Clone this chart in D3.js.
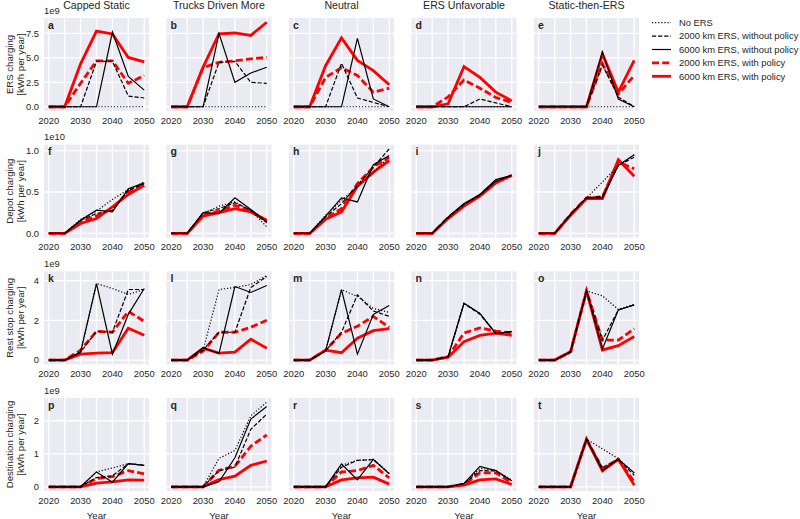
<!DOCTYPE html>
<html lang="en">
<head>
<meta charset="UTF-8">
<title>Charging by scenario</title>
<script src="https://d3js.org/d3.v7.min.js"></script>
<style>
    body { margin: 0; background: #fff; }
    svg { display: block; font-family: "Liberation Sans", Arial, sans-serif; }
    .tick-label { font-size: 9.4px; fill: #262626; }
    .title { font-size: 10.6px; fill: #262626; }
    .axis-label { font-size: 9.6px; fill: #262626; }
    .letter { font-size: 10.5px; font-weight: bold; fill: #262626; }
    .legend text { font-size: 9.4px; fill: #262626; }
</style>
</head>
<body>
<svg id="chart"></svg>
<script>
    const years = [2020, 2025, 2030, 2035, 2040, 2045, 2050];
    const gridYears = [2020, 2025, 2030, 2035, 2040, 2045, 2050];
    const labelYears = [2020, 2030, 2040, 2050];
    const scenarios = ["Capped Static", "Trucks Driven More", "Neutral", "ERS Unfavorable", "Static-then-ERS"];
    const rowLabels = [
        ["ERS charging", "[kWh per year]"],
        ["Depot charging", "[kWh per year]"],
        ["Rest stop charging", "[kWh per year]"],
        ["Destination charging", "[kWh per year]"]
    ];
    const rowExponents = ["1e9", "1e10", "1e9", "1e9"];
    const rowTicks = [[0, 2.5, 5, 7.5], [0, 0.5, 1.0], [0, 2, 4], [0, 1, 2]];
    const rowTickFormats = [".1f", ".1f", "d", "d"];
    const letters = "abcdefghijklmnopqrst".split("");
    const seriesNames = [
        "No ERS",
        "2000 km ERS, without policy",
        "6000 km ERS, without policy",
        "2000 km ERS, with policy",
        "6000 km ERS, with policy"
    ];

    // per scenario: [No ERS, 2000 w/o, 6000 w/o, 2000 with, 6000 with]
    const ersCharging = [
        [[0,0,0,0,0,0,0], [0,0,0,4.65,4.65,1.1,0.9], [0,0,0,0,7.65,3.1,1.7], [0,0,2.4,4.7,4.7,2.4,3.2], [0,0,4.4,7.75,7.45,5.05,4.6]],
        [[0,0,0,0,0,0,0], [0,0,0,4.55,4.65,2.5,2.4], [0,0,0,7.5,2.5,3.45,4.05], [0,0,4.0,4.55,4.7,4.9,5.05], [0,0,4.05,7.45,7.55,7.3,8.65]],
        [[0,0,0,0,0,0,0], [0,0,0,4.45,0.9,0.45,0], [0,0,0,0,7.0,0.8,0], [0,0,3.0,4.0,3.2,1.5,1.9], [0,0,4.2,7.05,4.75,3.7,2.25]],
        [[0,0,0,0,0,0,0], [0,0,0,0,0.8,0.4,0], [0,0,0,0,0,0,0], [0,0,1.0,2.75,1.9,0.95,0.45], [0,0,0.3,4.1,3.0,1.5,0.6]],
        [[0,0,0,0,0,0,0], [0,0,0,0,4.3,1.0,0], [0,0,0,0,5.6,0.8,0], [0,0,0,0,4.4,1.3,3.2], [0,0,0,0,5.4,1.5,4.75]]
    ];
    const depotCharging = [
        [[0,0,0.17,0.27,0.41,0.53,0.62], [0,0,0.16,0.24,0.28,0.52,0.60], [0,0,0.16,0.28,0.26,0.54,0.61], [0,0,0.14,0.21,0.30,0.50,0.60], [0,0,0.12,0.18,0.32,0.47,0.58]],
        [[0,0,0.24,0.33,0.38,0.28,0.08], [0,0,0.25,0.30,0.37,0.28,0.13], [0,0,0.25,0.24,0.43,0.29,0.14], [0,0,0.22,0.27,0.34,0.27,0.15], [0,0,0.21,0.25,0.30,0.26,0.16]],
        [[0,0,0.22,0.40,0.56,0.73,0.93], [0,0,0.20,0.36,0.58,0.80,1.02], [0,0,0.21,0.43,0.38,0.83,0.94], [0,0,0.18,0.30,0.60,0.80,0.92], [0,0,0.17,0.26,0.57,0.74,0.88]],
        [[0,0,0.19,0.35,0.47,0.63,0.70], [0,0,0.19,0.35,0.46,0.63,0.70], [0,0,0.20,0.36,0.47,0.65,0.70], [0,0,0.19,0.34,0.46,0.62,0.70], [0,0,0.18,0.33,0.45,0.61,0.70]],
        [[0,0,0.23,0.43,0.62,0.82,0.95], [0,0,0.23,0.43,0.45,0.82,0.92], [0,0,0.23,0.43,0.43,0.82,0.95], [0,0,0.23,0.43,0.44,0.86,0.78], [0,0,0.22,0.42,0.42,0.89,0.69]]
    ];
    const restStopCharging = [
        [[0,0,0.4,3.85,3.6,3.3,3.55], [0,0,0.4,1.45,1.4,3.55,3.55], [0,0,0.4,3.85,0.3,2.3,3.6], [0,0,0.5,1.45,1.4,2.45,1.95], [0,0,0.3,0.35,0.38,1.6,1.25]],
        [[0,0,0.5,3.55,3.65,3.8,4.25], [0,0,0.5,1.4,1.4,3.65,4.2], [0,0,0.62,0.34,3.7,3.4,3.75], [0,0,0.45,1.4,1.4,1.65,2.0], [0,0,0.6,0.35,0.4,1.05,0.6]],
        [[0,0,0.46,3.54,3.2,2.6,2.4], [0,0,0.46,1.4,3.28,2.47,2.2], [0,0,0.46,3.54,0.3,2.3,2.75], [0,0,0.5,1.35,1.7,2.2,1.65], [0,0,0.5,0.37,1.1,1.48,1.58]],
        [[0,0,0.17,2.86,2.35,1.33,1.44], [0,0,0.17,2.85,2.3,1.35,1.42], [0,0,0.17,2.86,2.35,1.33,1.44], [0,0,0.17,1.36,1.62,1.46,1.36], [0,0,0.15,0.93,1.24,1.36,1.24]],
        [[0,0,0.42,3.48,3.23,2.55,2.8], [0,0,0.42,3.48,1.0,2.52,2.78], [0,0,0.42,3.48,0.56,2.52,2.77], [0,0,0.42,3.48,1.0,1.0,1.58], [0,0,0.42,3.48,0.51,0.73,1.19]]
    ];
    const destinationCharging = [
        [[0,0,0,0.45,0.57,0.7,0.65], [0,0,0,0.28,0.33,0.7,0.65], [0,0,0,0.45,0.14,0.7,0.65], [0,0,0,0.25,0.31,0.49,0.39], [0,0,0,0.11,0.15,0.21,0.2]],
        [[0,0,0,0.86,1.1,2.15,2.56], [0,0,0,0.49,0.6,1.74,2.2], [0,0,0,0.15,0.88,2.05,2.43], [0,0,0,0.5,0.62,1.23,1.57], [0,0,0,0.22,0.32,0.65,0.78]],
        [[0,0,0,0.65,0.8,0.83,0.4], [0,0,0,0.59,0.8,0.82,0.4], [0,0,0,0.69,0.21,0.83,0.39], [0,0,0,0.45,0.49,0.65,0.27], [0,0,0,0.21,0.27,0.29,0.08]],
        [[0,0,0,0.1,0.56,0.5,0.2], [0,0,0,0.1,0.49,0.48,0.18], [0,0,0,0.1,0.62,0.49,0.18], [0,0,0,0.07,0.42,0.42,0.12], [0,0,0,0.05,0.21,0.24,0.07]],
        [[0,0,0,1.44,1.15,0.85,0.42], [0,0,0,1.44,0.58,0.83,0.35], [0,0,0,1.44,0.49,0.83,0.42], [0,0,0,1.44,0.55,0.83,0.15], [0,0,0,1.44,0.48,0.83,0.05]]
    ];
    const rows = [ersCharging, depotCharging, restStopCharging, destinationCharging];

    const width = 800, height = 519;
    const panelW = 105, panelH = 93;
    const colLeft = c => 44 + c * 122.5;
    const rowTop = r => 18 + r * 126.67;

    const styles = [
        { color: "#000", width: 1.2, dash: "1.2,1.9" },
        { color: "#000", width: 1.2, dash: "4.2,1.9" },
        { color: "#000", width: 1.2, dash: null },
        { color: "#ff0000", width: 2.8, dash: "7,3.2" },
        { color: "#ff0000", width: 2.8, dash: null }
    ];
    // red drawn first, black on top
    const drawOrder = [3, 4, 0, 1, 2];

    const svg = d3.select("#chart").attr("width", width).attr("height", height);

    rows.forEach((rowData, r) => {
        const top = rowTop(r);
        const maxV = d3.max(rowData.flat(2));
        const y = d3.scaleLinear()
            .domain([-0.05 * maxV, 1.05 * maxV])
            .range([top + panelH, top]);

        rowData.forEach((panel, c) => {
            const left = colLeft(c);
            const x = d3.scaleLinear().domain([2018.5, 2051.5]).range([left, left + panelW]);
            const g = svg.append("g");

            g.append("rect")
                .attr("x", left).attr("y", top)
                .attr("width", panelW).attr("height", panelH)
                .attr("fill", "#eaeaf2");

            g.selectAll(".vgrid").data(gridYears).join("line")
                .attr("x1", d => x(d)).attr("x2", d => x(d))
                .attr("y1", top).attr("y2", top + panelH)
                .attr("stroke", "#fff").attr("stroke-width", 1.3);

            g.selectAll(".hgrid").data(rowTicks[r]).join("line")
                .attr("x1", left).attr("x2", left + panelW)
                .attr("y1", d => y(d)).attr("y2", d => y(d))
                .attr("stroke", "#fff").attr("stroke-width", 1.3);

            const line = d3.line().x((d, i) => x(years[i])).y(d => y(d));

            drawOrder.forEach(s => {
                const st = styles[s];
                g.append("path")
                    .datum(panel[s])
                    .attr("d", line)
                    .attr("fill", "none")
                    .attr("stroke", st.color)
                    .attr("stroke-width", st.width)
                    .attr("stroke-dasharray", st.dash)
                    .attr("stroke-linejoin", "miter");
            });

            g.append("text")
                .attr("class", "letter")
                .attr("x", left + 4).attr("y", top + 10.5)
                .text(letters[r * 5 + c]);

            g.selectAll(".xlab").data(labelYears).join("text")
                .attr("class", "tick-label")
                .attr("x", d => x(d)).attr("y", top + panelH + 12.5)
                .attr("text-anchor", "middle")
                .text(d => d);

            if (r === 0) {
                svg.append("text")
                    .attr("class", "title")
                    .attr("x", left + panelW / 2).attr("y", 8.5)
                    .attr("text-anchor", "middle")
                    .text(scenarios[c]);
            }
            if (r === rows.length - 1) {
                svg.append("text")
                    .attr("class", "axis-label")
                    .attr("x", left + panelW / 2).attr("y", 518.5)
                    .attr("text-anchor", "middle")
                    .text("Year");
            }
            if (c === 0) {
                const fmt = d3.format(rowTickFormats[r]);
                svg.selectAll(null).data(rowTicks[r]).join("text")
                    .attr("class", "tick-label")
                    .attr("x", left - 5).attr("y", d => y(d))
                    .attr("dy", "0.35em")
                    .attr("text-anchor", "end")
                    .text(d => fmt(d));

                svg.append("text")
                    .attr("class", "tick-label")
                    .attr("x", left).attr("y", top - 4.5)
                    .text(rowExponents[r]);

                const cy = top + panelH / 2;
                rowLabels[r].forEach((t, k) => {
                    svg.append("text")
                        .attr("class", "axis-label")
                        .attr("transform", `translate(${10 + k * 11},${cy}) rotate(-90)`)
                        .attr("text-anchor", "middle")
                        .attr("dy", "0.35em")
                        .text(t);
                });
            }
        });
    });

    // legend
    const legend = svg.append("g").attr("class", "legend").attr("transform", "translate(652,22.7)");
    seriesNames.forEach((name, i) => {
        const st = styles[i];
        const ly = i * 13.4;
        legend.append("line")
            .attr("x1", 0).attr("x2", 19)
            .attr("y1", ly).attr("y2", ly)
            .attr("stroke", st.color)
            .attr("stroke-width", st.width)
            .attr("stroke-dasharray", st.dash);
        legend.append("text")
            .attr("x", 27).attr("y", ly)
            .attr("dy", "0.35em")
            .text(name);
    });
</script>
</body>
</html>
